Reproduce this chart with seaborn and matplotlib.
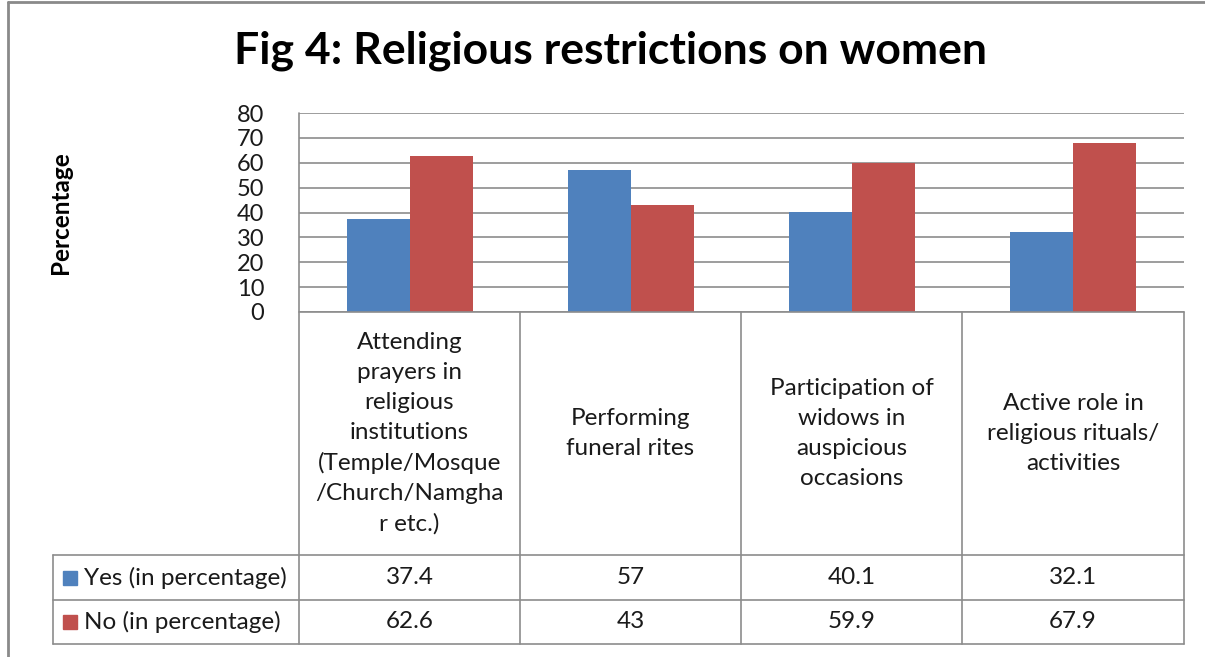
import pandas as pd
import matplotlib.pyplot as plt
import seaborn as sns
from matplotlib.lines import Line2D

# data
categories = ['Attending\nprayers in\nreligious\ninstitutions\n(Temple/Mosque\n/Church/Namgha\nr etc.)',
              'Performing\nfuneral rites',
              'Participation of\nwidows in\nauspicious\noccasions',
              'Active role in\nreligious rituals/\nactivities']
series = ['Yes (in percentage)', 'No (in percentage)']
yes_vals = [37.4, 57, 40.1, 32.1]
no_vals = [62.6, 43, 59.9, 67.9]
yes_labels = ['37.4', '57', '40.1', '32.1']
no_labels = ['62.6', '43', '59.9', '67.9']
yticks = [0, 10, 20, 30, 40, 50, 60, 70, 80]

colors = ['#4F81BD', '#C0504D']
grid_c = '#8C8C8C'
txt_c = '#1A1A1A'

df = pd.DataFrame({
    'category': categories * 2,
    'series': [series[0]] * 4 + [series[1]] * 4,
    'value': yes_vals + no_vals,
})

sns.set_style('white')
plt.rcParams['font.family'] = ['Lato', 'DejaVu Sans']

W, H = 1205, 657
fig = plt.figure(figsize=(W / 100, H / 100), dpi=100)


def fx(x):
    return x / W


def fy(y):
    return 1 - y / H


def hline(y, x0, x1, c=grid_c, lw=1.2):
    fig.add_artist(Line2D([fx(x0), fx(x1)], [fy(y), fy(y)], color=c, lw=lw))


def vline(x, y0, y1, c=grid_c, lw=1.2):
    fig.add_artist(Line2D([fx(x), fx(x)], [fy(y0), fy(y1)], color=c, lw=lw))


# plot area
L, R, T, B = 299, 1184, 113, 312
ax = fig.add_axes([fx(L), fy(B), fx(R - L), (B - T) / H])
sns.barplot(data=df, x='category', y='value', hue='series', palette=colors,
            width=0.57, saturation=1, linewidth=0, ax=ax, legend=False)
ax.set_xlim(-0.5, 3.5)
ax.set_ylim(0, 80)
ax.set_yticks(yticks)
ax.set_yticklabels([str(t) for t in yticks], fontsize=17, color=txt_c)
ax.tick_params(axis='y', length=0, pad=25)
ax.set_xticks([])
ax.set_xlabel('')
ax.set_ylabel('')
ax.yaxis.grid(True, color=grid_c, lw=1.2)
ax.set_axisbelow(True)
for s in ax.spines.values():
    s.set_visible(False)

# title and y label
fig.text(fx(611), fy(51), 'Fig 4: Religious restrictions on women', ha='center', va='center',
         fontsize=32, fontweight='bold', color='black')
fig.text(fx(61), fy(213), 'Percentage', rotation=90, ha='center', va='center',
         fontsize=17.5, fontweight='bold', color='black')

# outer frame
hline(2, 8, W, c='#8A8A8A', lw=2)
vline(8, 2, H, c='#8A8A8A', lw=2)

# data table grid
cols = [299, 520, 741, 962, 1184]
r_top, r1, r2, r_bot = 312, 555, 600, 644
vline(cols[0], T, r_bot)
for x in cols[1:]:
    vline(x, r_top, r_bot)
hline(r_top, cols[0], cols[-1])
for y in [r1, r2, r_bot]:
    hline(y, 53, cols[-1])
vline(53, r1, r_bot)

fs = 17.5
for i in range(4):
    xc = (cols[i] + cols[i + 1]) / 2
    fig.text(fx(xc), fy((r_top + r1) / 2), categories[i], ha='center', va='center',
             fontsize=fs, linespacing=1.52, color=txt_c)
    fig.text(fx(xc), fy((r1 + r2) / 2), yes_labels[i], ha='center', va='center',
             fontsize=fs, color=txt_c)
    fig.text(fx(xc), fy((r2 + r_bot) / 2), no_labels[i], ha='center', va='center',
             fontsize=fs, color=txt_c)

# legend keys inside the table
for name, c, (ya, yb) in zip(series, colors, [(r1, r2), (r2, r_bot)]):
    yc = (ya + yb) / 2
    fig.add_artist(plt.Rectangle((fx(63), fy(yc + 7)), 14 / W, 14 / H, color=c,
                                 transform=fig.transFigure))
    fig.text(fx(84), fy(yc), name, ha='left', va='center', fontsize=fs, color=txt_c)

fig.savefig('out.png', dpi=100)
